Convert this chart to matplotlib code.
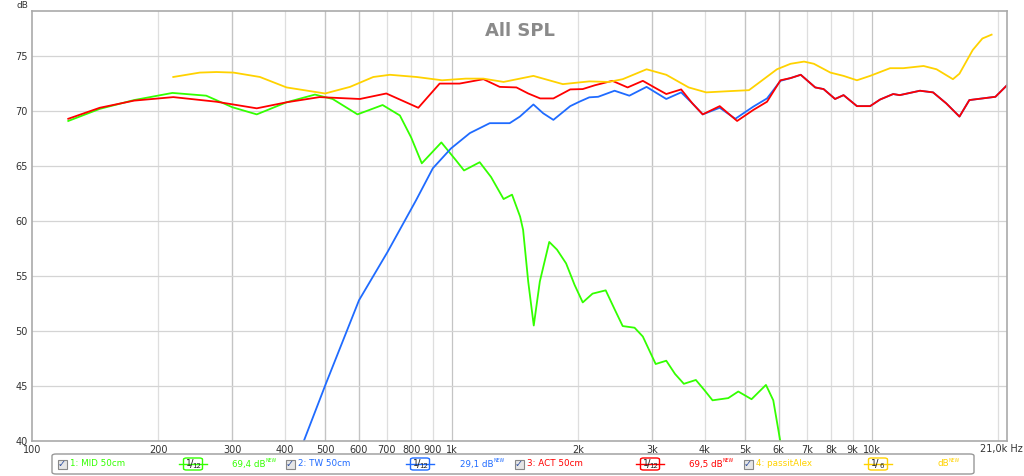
import matplotlib
matplotlib.use('Agg')
import matplotlib.pyplot as plt
from matplotlib.lines import Line2D
from matplotlib.patches import FancyBboxPatch, Rectangle

# curve data (Hz, dB)
mid_f = [122, 145, 175, 216, 260, 300, 343, 404, 472, 520, 596, 684, 752, 800, 848,
         944, 1024, 1069, 1165, 1240, 1328, 1391, 1454, 1478, 1520, 1567, 1620, 1706, 1780,
         1871, 1960, 2050, 2163, 2325, 2440, 2552, 2724, 2850, 3058, 3241, 3400, 3569,
         3812, 4000, 4177, 4553, 4810, 5173, 5599, 5828, 6049, 6150]
mid_db = [69.1, 70.2, 71.0, 71.65, 71.4, 70.35, 69.7, 70.8, 71.5, 71.1, 69.7, 70.55, 69.6,
          67.6, 65.25, 67.15, 65.5, 64.6, 65.35, 64.0, 62.0, 62.4, 60.4, 59.2, 54.5, 50.5,
          54.5, 58.1, 57.4, 56.15, 54.2, 52.6, 53.4, 53.7, 52.0, 50.45, 50.3, 49.5, 47.0,
          47.3, 46.1, 45.2, 45.55, 44.6, 43.7, 43.9, 44.5, 43.8, 45.1, 43.7, 40.1, 38.0]

tw_f = [420, 444, 501, 601, 703, 822, 901, 995, 1104, 1231, 1373, 1452, 1564, 1650,
        1745, 1914, 2012, 2125, 2231, 2441, 2647, 2909, 3241, 3517, 3740, 3958, 4345,
        4733, 5222, 5632, 6063, 6408, 6776, 7336, 7680, 8180, 8569, 9222, 9912, 10470,
        11250, 11660, 13030, 14000, 15050, 16180, 17080, 18350, 19710, 21000]
tw_db = [38.5, 40.0, 45.2, 52.8, 57.2, 61.9, 64.8, 66.6, 68.0, 68.9, 68.9, 69.5, 70.6,
         69.8, 69.2, 70.45, 70.85, 71.25, 71.3, 71.85, 71.4, 72.2, 71.1, 71.7, 70.7, 69.7,
         70.3, 69.3, 70.4, 71.15, 72.75, 73.0, 73.3, 72.15, 72.0, 71.1, 71.45, 70.45,
         70.45, 71.05, 71.55, 71.45, 71.85, 71.7, 70.7, 69.5, 71.0, 71.15, 71.3, 72.35]

act_f = [122, 145, 175, 217, 275, 343, 404, 484, 604, 698, 832, 935, 1043, 1189, 1300, 1425,
         1520, 1623, 1745, 1914, 2049, 2192, 2411, 2622, 2850, 3070, 3241, 3517, 3740,
         3958, 4345, 4780, 5222, 5632, 6063, 6408, 6776, 7336, 7680, 8180, 8569, 9222,
         9912, 10470, 11250, 11660, 13030, 14000, 15050, 16180, 17080, 18350, 19710, 21000]
act_db = [69.3, 70.3, 70.95, 71.27, 70.85, 70.25, 70.8, 71.27, 71.1, 71.6, 70.3, 72.5, 72.5,
          72.9, 72.2, 72.15, 71.6, 71.15, 71.15, 71.97, 72.0, 72.35, 72.75, 72.15, 72.75,
          72.05, 71.55, 71.97, 70.7, 69.7, 70.45, 69.1, 70.1, 70.85, 72.8, 73.0, 73.3,
          72.15, 72.0, 71.1, 71.45, 70.45, 70.45, 71.05, 71.55, 71.45, 71.85, 71.7, 70.7,
          69.5, 71.0, 71.15, 71.3, 72.35]

alex_f = [217, 251, 275, 302, 349, 404, 499, 572, 650, 712, 824, 948, 1079, 1189, 1328,
          1564, 1838, 2125, 2365, 2552, 2909, 3241, 3665, 4035, 4513, 5100, 5420, 5946,
          6408, 6900, 7282, 7973, 8569, 9222, 9912, 11060, 11890, 13290, 14270, 15610,
          16180, 17400, 18350, 19300]
alex_db = [73.1, 73.5, 73.55, 73.5, 73.1, 72.15, 71.6, 72.2, 73.1, 73.3, 73.1, 72.8,
           72.95, 72.95, 72.65, 73.2, 72.45, 72.7, 72.65, 72.9, 73.8, 73.3, 72.15, 71.7,
           71.8, 71.9, 72.65, 73.8, 74.3, 74.5, 74.3, 73.5, 73.2, 72.8, 73.2, 73.9, 73.9,
           74.1, 73.8, 72.9, 73.4, 75.55, 76.6, 76.95]

xticks = [100, 200, 300, 400, 500, 600, 700, 800, 900, 1000, 2000, 3000, 4000, 5000,
          6000, 7000, 8000, 9000, 10000, 21000]
xlabels = ['100', '200', '300', '400', '500', '600', '700', '800', '900', '1k', '2k', '3k',
           '4k', '5k', '6k', '7k', '8k', '9k', '10k', '']
yticks = [40, 45, 50, 55, 60, 65, 70, 75]

GREEN = '#33ff00'
BLUE = '#1f6bff'
RED = '#ff0000'
YELLOW = '#ffd200'

fig = plt.figure(figsize=(10.24, 4.76), dpi=100)
ax = fig.add_axes([32 / 1024, 35 / 476, 975 / 1024, 430 / 476])
ax.set_xscale('log')
ax.set_xlim(100, 21000)
ax.set_ylim(40, 79.1)

# grid
for f in [200, 300, 400, 500, 600, 700, 800, 900, 2000, 3000, 4000, 5000, 6000, 7000,
          8000, 9000, 20000]:
    ax.axvline(f, color='#dedede', lw=0.9, zorder=0)
for f in [300, 500, 600, 1000, 3000, 5000, 6000, 10000]:
    ax.axvline(f, color='#c4c4c4', lw=0.9, zorder=0)
for v in yticks[1:]:
    ax.axhline(v, color='#d4d4d4', lw=0.9, zorder=0)

ax.plot(mid_f, mid_db, color=GREEN, lw=1.3)
ax.plot(tw_f, tw_db, color=BLUE, lw=1.3)
ax.plot(act_f, act_db, color=RED, lw=1.3)
ax.plot(alex_f, alex_db, color=YELLOW, lw=1.3)

ax.set_xticks(xticks)
ax.set_xticklabels(xlabels)
ax.xaxis.set_minor_locator(matplotlib.ticker.NullLocator())
ax.set_yticks(yticks)
ax.tick_params(length=0, labelsize=7, colors='#333333', pad=3)
for s in ax.spines.values():
    s.set_color('#aaaaaa')
    s.set_linewidth(1.2)
fig.text(1001 / 1024, 1 - 449 / 476, '21,0k Hz', fontsize=7, color='#333333',
         ha='center', va='center')

ax.text(0.5, 0.975, 'All SPL', transform=ax.transAxes, ha='center', va='top',
        fontsize=13, fontweight='bold', color='#8a8a8a')
fig.text(22 / 1024, 1 - 5 / 476, 'dB', fontsize=6.5, color='#333333', va='center', ha='center')

# legend strip
fig.patches.append(FancyBboxPatch((52 / 1024, 2 / 476), 922 / 1024, 20 / 476,
                                  boxstyle='round,pad=0,rounding_size=0.004',
                                  transform=fig.transFigure, fc='white', ec='#999999', lw=1))
ly = 12 / 476
items = [
    (62, '1: MID 50cm', GREEN, 193, '12', 232, '69,4 dB'),
    (290, '2: TW 50cm', BLUE, 420, '12', 460, '29,1 dB'),
    (519, '3: ACT 50cm', RED, 650, '12', 689, '69,5 dB'),
    (748, '4: passitAlex', YELLOW, 878, '6', 938, 'dB'),
]
for cx, name, col, bx, den, vx, val in items:
    fig.patches.append(Rectangle(((cx - 4) / 1024, ly - 4.5 / 476), 9 / 1024, 9 / 476,
                                 transform=fig.transFigure, fc='#e6e6e6', ec='#888888', lw=0.8))
    fig.text(cx / 1024, ly, '\u2713', fontsize=7, color='#3050a0', ha='center', va='center')
    fig.text((cx + 8) / 1024, ly, name, fontsize=6.3, color=col, va='center')
    fig.lines.append(Line2D([(bx - 14) / 1024, (bx + 14) / 1024], [ly, ly],
                            transform=fig.transFigure, color=col, lw=1))
    fig.patches.append(FancyBboxPatch(((bx - 9.5) / 1024, ly - 6 / 476), 19 / 1024, 12 / 476,
                                      boxstyle='round,pad=0,rounding_size=0.003',
                                      transform=fig.transFigure, fc='white', ec=col, lw=1))
    fig.text((bx - 4) / 1024, ly + 1 / 476, '1', fontsize=6.5, color='#222222',
             ha='center', va='center')
    fig.text((bx - 1) / 1024, ly, '/', fontsize=7.5, color='#222222',
             ha='center', va='center')
    fig.text((bx + 4) / 1024, ly - 2 / 476, den, fontsize=5, color='#222222',
             ha='center', va='center')
    fig.text(vx / 1024, ly, val, fontsize=6.3, color=col, va='center')
    fig.text((vx + 4.7 * len(val) + 1) / 1024, ly + 3 / 476, 'NEW', fontsize=3.3, color=col,
             va='center')

fig.savefig('out.png', dpi=100, facecolor='white')
